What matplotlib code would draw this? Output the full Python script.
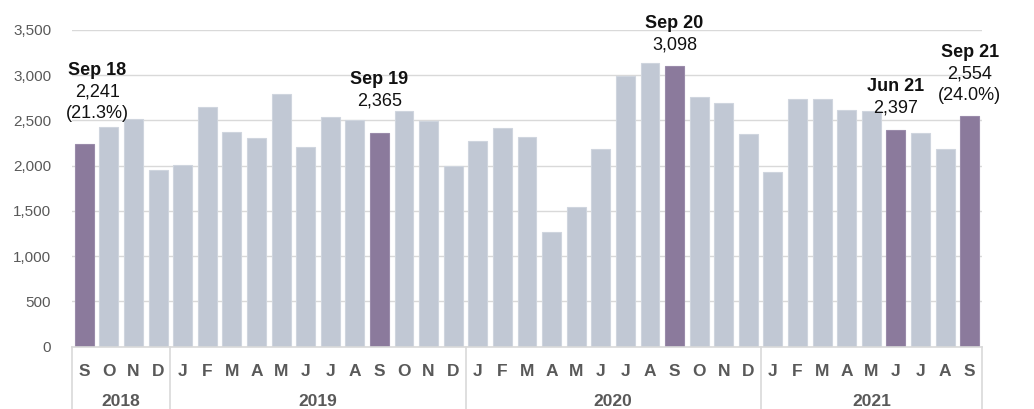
import numpy as np
import matplotlib
matplotlib.use("Agg")
import matplotlib.pyplot as plt
from matplotlib.ticker import FuncFormatter

plt.rcParams["font.family"] = ["Liberation Sans", "DejaVu Sans"]

# monthly values, Sep 2018 .. Sep 2021
values = [2241, 2431, 2517, 1952,
          2008, 2649, 2373, 2310, 2797, 2210, 2542, 2505, 2365, 2605, 2494, 2000,
          2270, 2414, 2321, 1270, 1540, 2181, 2996, 3136, 3098, 2760, 2693, 2351,
          1930, 2741, 2738, 2616, 2605, 2397, 2365, 2188, 2554]
months = ["S", "O", "N", "D",
          "J", "F", "M", "A", "M", "J", "J", "A", "S", "O", "N", "D",
          "J", "F", "M", "A", "M", "J", "J", "A", "S", "O", "N", "D",
          "J", "F", "M", "A", "M", "J", "J", "A", "S"]
years = ["2018", "2019", "2020", "2021"]
year_counts = [4, 12, 12, 9]

# highlighted bars and their labels
hl_idx = [0, 12, 24, 33, 36]
hl_names = ["Sep 18", "Sep 19", "Sep 20", "Jun 21", "Sep 21"]
hl_pct = ["(21.3%)", None, None, None, "(24.0%)"]

# label placement (pixels above bar top, horizontal shift)
hl_gap = [30, 32, 21, 22, 20]
hl_dx = [13, 0, 0, 0, 0]

purple = "#8B7A9C"
grey = "#C1C8D4"
txt_grey = "#595959"
line_grey = "#D9D9D9"

fig = plt.figure(figsize=(10.34, 4.09), dpi=100)
ax = fig.add_axes([72 / 1034, 1 - 346.5 / 409, 910 / 1034, 316.5 / 409])

x = np.arange(len(values))
colors = [purple if i in hl_idx else grey for i in x]
edges = ["#9A8BAA" if i in hl_idx else "#CFD5DE" for i in x]
ax.bar(x, values, width=0.77, color=colors, edgecolor=edges, linewidth=0.8, zorder=2)

ax.set_xlim(-0.5, len(values) - 0.5)
ax.set_ylim(0, 3500)
ax.set_yticks(np.arange(0, 3501, 500))
ax.yaxis.set_major_formatter(FuncFormatter(lambda v, p: f"{int(v):,}"))
ax.tick_params(axis="y", length=0, pad=15, labelsize=11, labelcolor=txt_grey)
ax.set_xticks([])
ax.grid(axis="y", color=line_grey, linewidth=1, zorder=0)
for s in ["top", "right", "left"]:
    ax.spines[s].set_visible(False)
ax.spines["bottom"].set_color(line_grey)
ax.spines["bottom"].set_linewidth(1.2)
ax.spines["bottom"].set_zorder(3)

# two-level category axis
tr = ax.get_xaxis_transform()
h = 316.5
for i, m in enumerate(months):
    ax.text(i, -(371 - 346.5) / h, m, transform=tr, ha="center", va="center",
            fontsize=12.5, fontweight="bold", color=txt_grey)

bounds = np.concatenate([[0], np.cumsum(year_counts)]) - 0.5
for b in bounds:
    ax.plot([b, b], [0, -(409 - 346.5) / h], transform=tr, color=line_grey,
            linewidth=1.2, clip_on=False)
for yr, lo, hi in zip(years, bounds[:-1], bounds[1:]):
    ax.text((lo + hi) / 2, -(401.5 - 346.5) / h, yr, transform=tr, ha="center",
            va="center", fontsize=12.5, fontweight="bold", color=txt_grey)

# labels over highlighted bars
for k, i in enumerate(hl_idx):
    lines = [(hl_names[k], "bold"), (f"{values[i]:,}", "normal")]
    if hl_pct[k]:
        lines.append((hl_pct[k], "normal"))
    n = len(lines)
    for j, (t, w) in enumerate(lines):
        dy = hl_gap[k] + (n - 1 - j) * 21.5
        ax.annotate(t, (i, values[i]), xytext=(hl_dx[k], dy), textcoords="offset pixels",
                    ha="center", va="center", fontsize=13, fontweight=w,
                    color="#111111", annotation_clip=False)

fig.savefig("out.png", dpi=100)
